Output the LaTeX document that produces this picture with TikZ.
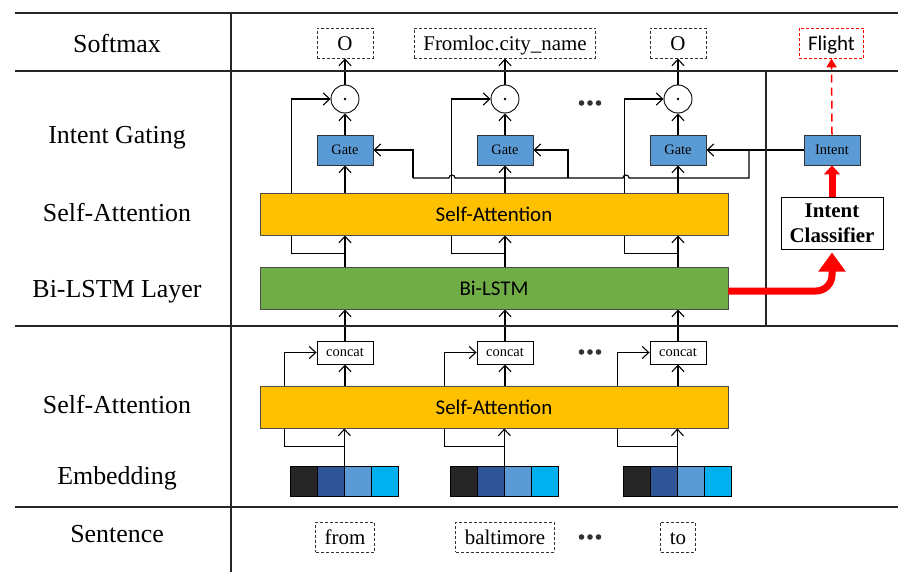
\documentclass[tikz,border=0pt]{standalone}
\usepackage{fontspec}
\setmainfont{Liberation Serif}
\newfontfamily\cfont{Carlito}
\usetikzlibrary{arrows.meta,backgrounds,positioning}
\definecolor{saorange}{HTML}{FFC000}
\definecolor{lstmgreen}{HTML}{70AD47}
\definecolor{gateblue}{HTML}{5B9BD5}
\definecolor{embA}{HTML}{262626}
\definecolor{embB}{HTML}{2F5597}
\definecolor{embC}{HTML}{5B9BD5}
\definecolor{embD}{HTML}{00B0F0}
\begin{document}
\begin{tikzpicture}[x=1bp,y=-1bp,
    arr/.style={-{Straight Barb[length=6.5bp,width=12bp]},line width=1.1bp},
    rule/.style={line width=1.3bp,black!85},
    lab/.style={anchor=base,font=\fontsize{26}{30}\selectfont},
    word/.style={draw=black!80,dash pattern=on 3bp off 2bp,line width=0.9bp,minimum height=30bp,inner xsep=9bp,inner ysep=0pt,text height=16bp,text depth=1bp,font=\fontsize{21}{24}\selectfont},
    gate/.style={draw=black!80,fill=gateblue,line width=0.9bp,minimum width=56bp,minimum height=30bp,inner sep=0pt,font=\fontsize{14.5}{16}\selectfont},
    dotop/.style={circle,draw,line width=0.9bp,minimum size=28bp,inner sep=0pt},
    concatbox/.style={draw,line width=0.9bp,minimum width=56bp,minimum height=23bp,inner sep=0pt,font=\fontsize{14.5}{16}\selectfont},
    layer/.style={draw=black!70,line width=0.9bp,minimum width=468bp,minimum height=42bp,inner sep=0pt,font=\cfont\fontsize{21}{24}\selectfont},
    cell/.style={draw=black,line width=0.8bp,minimum width=27bp,minimum height=30bp,inner sep=0pt},
    bigred/.style={red,line width=7bp,-{Triangle[length=19bp,width=26bp]}},
  ]
\useasboundingbox (0,0) rectangle (919,581);
% frame
\draw[rule] (15,13) -- (898,13);
\draw[rule] (15,71) -- (898,71);
\draw[rule] (15,326) -- (898,326);
\draw[rule] (15,507) -- (898,507);
\draw[rule] (231,13) -- (231,572);
\draw[rule] (766,71) -- (766,326);
% row labels
\node[lab] (lsoft) at (117,52.5) {Softmax};
\node[lab] (lgate) at (117,143.5) {Intent Gating};
\node[lab] (lusa) at (117,221.5) {Self-Attention};
\node[lab] (llstm) at (117,297.5) {Bi-LSTM Layer};
\node[lab] (llsa) at (117,413.5) {Self-Attention};
\node[lab] (lemb) at (117,484) {Embedding};
\node[lab] (lsent) at (117,542) {Sentence};
% layers
\node[layer,fill=saorange] (usa) at (494,214) {Self-Attention};
\node[layer,fill=lstmgreen] (lstm) at (494,288) {Bi-LSTM};
\node[layer,fill=saorange] (lsa) at (494,407) {Self-Attention};
% columns
\foreach \i/\cx/\w/\o in {1/345/from/O,2/505/baltimore/Fromloc.city\_name,3/678/to/O}{
  \node[word,minimum width=56bp] (o\i) at (\cx,43) {\o};
  \node[dotop] (m\i) at (\cx,99) {};
  \fill (m\i) circle (1.4bp);
  \node[gate] (g\i) at (\cx,150) {Gate};
  \node[concatbox] (c\i) at (\cx,352.5) {concat};
  \foreach \k/\col in {1/embA,2/embB,3/embC,4/embD}
    \node[cell,fill=\col] (e\i-\k) at (\cx-68.5+27*\k,481) {};
  \coordinate (e\i) at (e\i-2.north east);
  \node[word] (w\i) at (\cx,537) {\w};
}
\foreach \y in {103,352,537}
  \foreach \d in {-8.5,0,8.5}
    \fill[black!80] (590+\d,\y) circle (2.8bp);
% intent side
\node[gate] (intent) at (832,150) {Intent};
\node[draw,line width=1bp,minimum width=102bp,minimum height=51bp,inner sep=0pt,align=center,font=\bfseries\fontsize{21}{25}\selectfont] (ic) at (832,223.5) {Intent\\Classifier};
\node[word,draw=red,font=\cfont\fontsize{21}{24}\selectfont] (flight) at (831.5,43) {Flight};
\coordinate (br) at (749,150);
\coordinate (j1) at (413,178);
\coordinate (j2) at (568,178);
\begin{pgfonlayer}{background}
\foreach \i in {1,2,3}{
  \draw[arr] (e\i) -- (e\i |- lsa.south);
  \draw[arr] ([yshift=19bp]e\i) -| ([xshift=-32bp]c\i.west) -- (c\i.west);
  \draw[arr] (c\i.south |- lsa.north) -- (c\i.south);
  \draw[arr] (c\i.north) -- (c\i.north |- lstm.south);
  \draw[arr] (g\i.south |- lstm.north) -- (g\i.south |- usa.south);
  \draw[arr] ([yshift=13bp]g\i.south |- lstm.north) -| ([xshift=-39bp]m\i.west) -- (m\i.west);
  \draw[arr] (g\i.south |- usa.north) -- (g\i.south);
  \draw[arr] (g\i.north) -- (m\i.south);
  \draw[arr] (m\i.north) -- (o\i.south);
}
\draw[arr] (intent.west) -- (g3.east);
\draw[line width=1.1bp] (br) |- (629,178) arc[start angle=0,end angle=180,radius=3bp] -- (455,178) arc[start angle=0,end angle=180,radius=3bp] -- (j1);
\draw[arr] (j1) |- (g1.east);
\draw[arr] (j2) |- (g2.east);
\end{pgfonlayer}
\draw[bigred,rounded corners=16bp,shorten >=3bp] ([yshift=-3bp]lstm.east) -| (ic.south);
\draw[red,line width=7bp,-{Triangle[length=9bp,width=16bp]}] (ic.north) -- (intent.south);
\draw[red,line width=1.5bp,dash pattern=on 8bp off 5bp,-{Triangle[length=9bp,width=10bp]}] (intent.north) -- (flight.south);
\end{tikzpicture}
\end{document}
